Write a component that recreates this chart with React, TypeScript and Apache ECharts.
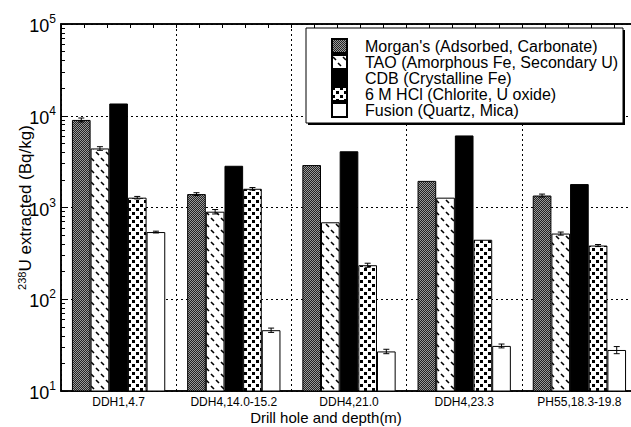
import React, { useEffect, useRef } from "react";
import * as echarts from "echarts";

const categories = ["DDH1,4.7", "DDH4,14.0-15.2", "DDH4,21.0", "DDH4,23.3", "PH55,18.3-19.8"];
const seriesNames = [
  "Morgan's (Adsorbed, Carbonate)",
  "TAO (Amorphous Fe, Secondary U)",
  "CDB (Crystalline Fe)",
  "6 M HCl (Chlorite, U oxide)",
  "Fusion (Quartz, Mica)",
];
const morgan = [9000, 1400, 2900, 1950, 1350];
const tao = [4400, 900, 690, 1280, 520];
const cdb = [13600, 2850, 4100, 6100, 1800];
const hcl = [1280, 1600, 235, 445, 385];
const fusion = [540, 46, 27, 31, 28];

const morganErr = [450, 50, 0, 0, 50];
const taoErr = [200, 50, 0, 0, 20];
const cdbErr = [0, 0, 0, 0, 0];
const hclErr = [40, 50, 12, 0, 10];
const fusionErr = [12, 2.5, 1.5, 1.5, 2.5];

const yTickValues = [10, 100, 1000, 10000, 100000];
const yTickExponents = ["1", "2", "3", "4", "5"];
const yMinorTicks = [
  20, 30, 40, 50, 60, 70, 80, 90,
  200, 300, 400, 500, 600, 700, 800, 900,
  2000, 3000, 4000, 5000, 6000, 7000, 8000, 9000,
  20000, 30000, 40000, 50000, 60000, 70000, 80000, 90000,
];

const FONT = "'Liberation Sans', Arial, Helvetica, sans-serif";
const CAT_GAP = 0.19;

function makePattern(kind: string) {
  const c = document.createElement("canvas");
  let w = 4, h = 4;
  if (kind === "hatch") { w = 4; h = 4; }
  if (kind === "dash") { w = 10; h = 12; }
  if (kind === "dots") { w = 8; h = 8; }
  c.width = w; c.height = h;
  const ctx = c.getContext("2d")!;
  ctx.fillStyle = "#fff";
  ctx.fillRect(0, 0, w, h);
  ctx.fillStyle = "#000";
  ctx.strokeStyle = "#000";
  if (kind === "hatch") {
    ctx.fillStyle = "#9a9a9a";
    ctx.fillRect(0, 0, w, h);
    ctx.fillStyle = "#222";
    const px = [[0, 3], [1, 2], [2, 1], [3, 0], [0, 1], [1, 0], [2, 3], [3, 2]];
    px.forEach(([x, y]) => ctx.fillRect(x, y, 1, 1));
  } else if (kind === "dash") {
    ctx.lineWidth = 1.6;
    ctx.beginPath();
    ctx.moveTo(1, 2); ctx.lineTo(4, 5);
    ctx.moveTo(6, 8); ctx.lineTo(9, 11);
    ctx.stroke();
  } else if (kind === "dots") {
    ctx.fillRect(0, 0, 3, 3);
    ctx.fillRect(4, 4, 3, 3);
  }
  return { image: c, repeat: "repeat", imageWidth: w, imageHeight: h } as any;
}

export default function App() {
  const ref = useRef<HTMLDivElement>(null);
  useEffect(() => {
    if (!ref.current) return;
    const chart = echarts.init(ref.current, null, { renderer: "svg" });
    const fills = [makePattern("hatch"), makePattern("dash"), "#000", makePattern("dots"), "#fff"];
    const values = [morgan, tao, cdb, hcl, fusion];
    const errs = [morganErr, taoErr, cdbErr, hclErr, fusionErr];

    const errData: any[] = [];
    values.forEach((vals, s) => {
      vals.forEach((v, ci) => {
        errData.push([ci, v, errs[s][ci], s]);
      });
    });

    const barSeries = seriesNames.map((name, s) => ({
      name,
      type: "bar",
      xAxisIndex: 0,
      yAxisIndex: 0,
      data: values[s],
      barGap: "0%",
      barCategoryGap: CAT_GAP * 100 + "%",
      itemStyle: { color: fills[s], borderColor: "#000", borderWidth: 1 },
      z: 2,
    }));

    const option: any = {
      animation: false,
      backgroundColor: "#fff",
      textStyle: { fontFamily: FONT, color: "#000" },
      grid: {
        left: 61, top: 24, width: 576, height: 367,
        containLabel: false,
        outerBoundsMode: "none",
        show: true, borderColor: "#000", borderWidth: 1.5, backgroundColor: "transparent",
      },
      legend: {
        orient: "vertical",
        left: 331, top: 38,
        padding: 0,
        itemWidth: 15, itemHeight: 14, itemGap: 0,
        icon: "rect",
        data: seriesNames,
        z: 6,
        textStyle: { fontFamily: FONT, fontSize: 16, color: "#000", padding: [0, 0, 0, 13], lineHeight: 14 },
      },
      graphic: [
        { type: "rect", z: 4, shape: { x: 308, y: 30, width: 317, height: 95 }, style: { fill: "#000" } },
        { type: "rect", z: 5, shape: { x: 306, y: 28, width: 317, height: 95 }, style: { fill: "#fff", stroke: "#000", lineWidth: 1 } },
      ],
      xAxis: [
        {
          type: "category",
          data: categories,
          position: "bottom",
          axisLine: { show: true, lineStyle: { color: "#000", width: 1.5 } },
          axisTick: { show: false },
          axisLabel: { interval: 0, fontFamily: FONT, fontSize: 12, color: "#000", margin: 5 },
          splitLine: { show: true, interval: 0, lineStyle: { color: "#000", type: [2, 3], width: 1 } },
          name: "Drill hole and depth(m)",
          nameLocation: "middle",
          nameGap: 19,
          nameMoveOverlap: false,
          nameTextStyle: { fontFamily: FONT, fontSize: 15, color: "#000", lineHeight: 15, padding: [0, 46, 0, 0] },
        },
        {
          type: "value",
          position: "top",
          min: 0, max: 25, interval: 1,
          axisLine: { show: true, lineStyle: { color: "#000", width: 1.5 } },
          axisTick: { show: true, inside: true, length: 4, lineStyle: { color: "#000" } },
          axisLabel: { show: false },
          splitLine: { show: false },
        },
      ],
      yAxis: [
        {
          type: "log",
          logBase: 10,
          min: 10, max: 100000,
          axisLine: { show: true, lineStyle: { color: "#000", width: 1.5 } },
          axisTick: { show: true, inside: true, length: 7, lineStyle: { color: "#000" } },
          splitLine: { show: true, lineStyle: { color: "#000", type: [2, 3], width: 1 } },
          axisLabel: {
            margin: 5,
            formatter: (v: number) => {
              const i = yTickValues.findIndex((t) => Math.abs(t - v) / t < 1e-6);
              return i >= 0 ? `{b|10}{s|${yTickExponents[i]}}` : "";
            },
            rich: {
              b: { fontFamily: FONT, fontSize: 18, color: "#000", lineHeight: 22, verticalAlign: "bottom" },
              s: { fontFamily: FONT, fontSize: 12, color: "#000", lineHeight: 12, verticalAlign: "top" },
            },
          },
          name: "{s|238}{n|U extracted (Bq/kg)}",
          nameLocation: "middle",
          nameGap: 27,
          nameMoveOverlap: false,
          nameTextStyle: {
            rich: {
              s: { fontFamily: FONT, fontSize: 11, color: "#000", lineHeight: 11, verticalAlign: "top" },
              n: { fontFamily: FONT, fontSize: 17, color: "#000", lineHeight: 18, verticalAlign: "bottom" },
            },
          },
        },
        {
          type: "log",
          logBase: 10,
          min: 10, max: 100000,
          position: "left",
          axisLine: { show: false },
          axisTick: { show: true, inside: true, length: 4, customValues: yMinorTicks, lineStyle: { color: "#000" } },
          axisLabel: { show: false },
          splitLine: { show: false },
        },
      ],
      series: [
        ...barSeries,
        {
          type: "custom",
          xAxisIndex: 0,
          yAxisIndex: 0,
          z: 3,
          silent: true,
          data: errData,
          encode: { x: 0, y: 1 },
          renderItem: (_p: any, api: any) => {
            const c = api.value(0);
            const v = api.value(1);
            const e = api.value(2);
            const s = api.value(3);
            if (!e) return null;
            const p0 = api.coord([0, v]);
            const p1 = api.coord([1, v]);
            const band = p1[0] - p0[0];
            const barW = (band * (1 - CAT_GAP)) / 5;
            const center = api.coord([c, v]);
            const x = center[0] + (s - 2) * barW;
            const yHi = api.coord([c, v + e])[1];
            const yLo = api.coord([c, Math.max(v - e, 10)])[1];
            const cap = 3;
            const st = { stroke: "#000", lineWidth: 1 };
            return {
              type: "group",
              children: [
                { type: "line", shape: { x1: x, y1: yHi, x2: x, y2: yLo }, style: st },
                { type: "line", shape: { x1: x - cap, y1: yHi, x2: x + cap, y2: yHi }, style: st },
                { type: "line", shape: { x1: x - cap, y1: yLo, x2: x + cap, y2: yLo }, style: st },
              ],
            };
          },
        },
      ],
    };
    chart.setOption(option);
    return () => chart.dispose();
  }, []);
  return (
    <div
      ref={ref}
      style={{ position: "fixed", left: 0, top: 0, width: 631, height: 427, background: "#fff" }}
    />
  );
}
